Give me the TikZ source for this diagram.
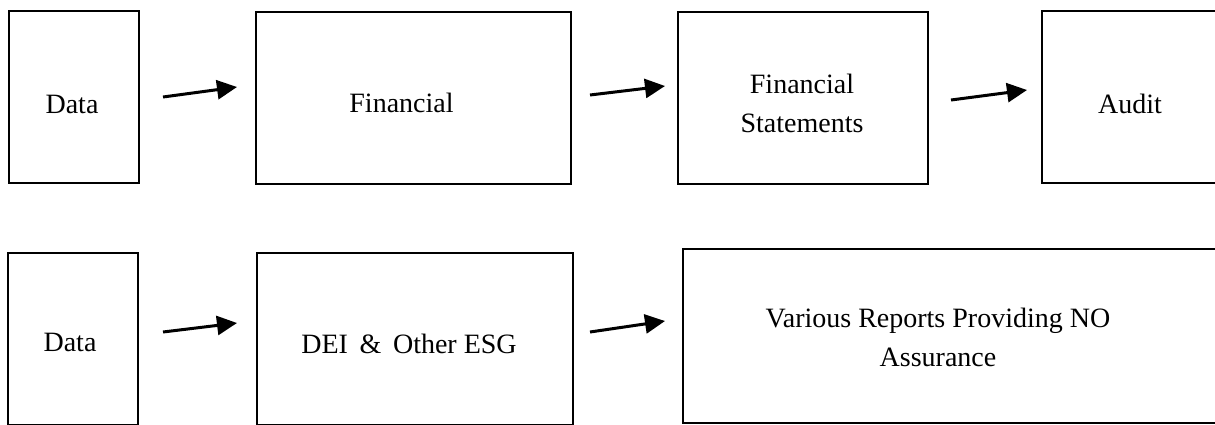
\documentclass[tikz,border=0pt]{standalone}
\usepackage{fontspec}
\setmainfont{Liberation Serif}
\usetikzlibrary{arrows.meta}

\tikzset{
  stage/.style={draw, line width=0.8pt, minimum height=86pt, inner sep=0pt},
  flow/.style={line width=1.5pt, -{Triangle[length=10pt,width=9.5pt]}},
  lbl/.style={anchor=base, inner sep=0pt, font=\fontsize{14pt}{19.5pt}\selectfont, align=center}
}

\begin{document}
\begin{tikzpicture}[x=0.5pt,y=-0.5pt]
    \clip (0,0) rectangle (1215,424);
    \fill[white] (0,0) rectangle (1215,424);

    % financial row
    \node[stage, minimum width=65pt] (data1) at (74,97) {};
    \node[stage, minimum width=157.5pt] (fin) at (413.5,98) {};
    \node[stage, minimum width=125pt] (stmt) at (803,98) {};
    \node[stage, minimum width=94pt] (audit) at (1136,97) {};

    \node[lbl] (data1-t) at (72,113) {Data};
    \node[lbl] (fin-t) at (401.5,112) {Financial};
    \node[lbl] (stmt-t) at (802,132) {Financial\\Statements};
    \node[lbl] (audit-t) at (1130,113) {Audit};

    \coordinate (f1a) at (163,97);  \coordinate (f1b) at (237,87);
    \coordinate (f2a) at (590,95);  \coordinate (f2b) at (665,86);
    \coordinate (f3a) at (951,100); \coordinate (f3b) at (1027,90);
    \draw[flow] (f1a) -- (f1b);
    \draw[flow] (f2a) -- (f2b);
    \draw[flow] (f3a) -- (f3b);

    % esg row
    \node[stage, minimum width=65pt] (data2) at (73,339) {};
    \node[stage, minimum width=158pt] (esg) at (415,339) {};
    \node[stage, minimum width=278.5pt, minimum height=87pt] (rep) at (961.5,336) {};

    \node[lbl] (data2-t) at (70,351) {Data};
    \node[lbl] (esg-t) at (409,353) {DEI\,~\&\,~Other ESG};
    \node[lbl] (rep-t) at (938,366) {Various Reports Providing NO\\Assurance};

    \coordinate (e1a) at (163,332); \coordinate (e1b) at (237,323);
    \coordinate (e2a) at (590,332); \coordinate (e2b) at (665,321);
    \draw[flow] (e1a) -- (e1b);
    \draw[flow] (e2a) -- (e2b);
\end{tikzpicture}
\end{document}
